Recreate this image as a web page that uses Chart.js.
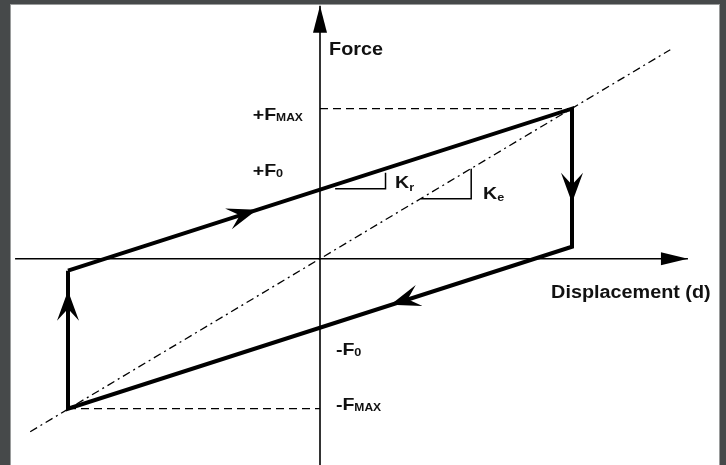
<!DOCTYPE html>
<html>
<head>
<meta charset="utf-8">
<script src="https://cdn.jsdelivr.net/npm/chart.js@4.4.0/dist/chart.umd.min.js"></script>
<style>
html, body { margin:0; padding:0; background:#46494a; overflow:hidden; }
#frame { position:absolute; left:10px; top:4px; width:710px; height:461px; background:#fff;
  border:1px solid #9a9c9c; border-bottom:none; box-sizing:border-box; }
canvas { position:absolute; left:0; top:0; }
</style>
</head>
<body>
<div id="frame"></div>
<canvas id="chart" width="726" height="465"></canvas>
<script>
// hysteresis loop corners (displacement, force)
const loopD = [-10, 10, 10, -10, -10];
const loopF = [-1.2, 15, 1.2, -15, -1.2];
// elastic stiffness line Ke (dash-dot)
const keD = [-11.5, 13.9];
const keF = [-17.3, 20.9];
// +Fmax / -Fmax guide lines
const fmaxD = [0, 10];
const fmaxF = [15, 15];
const fminD = [-10, 0];
const fminF = [-15, -15];
// axes
const axisXD = [-12.1, 14.6];
const axisXF = [0, 0];
const axisYD = [0, 0];
const axisYF = [-21, 25.3];
// slope triangles
const krD = [0.6, 2.6, 2.6];
const krF = [7, 7, 8.6];
const keTriD = [4, 6, 6];
const keTriF = [6, 6, 9];
// arrows on the loop: which segment, tip position
const arrowSeg = [0, 1, 2, 3];
const arrowD = [-2.5, 10, 2.8, -10];
const arrowF = [4.9, 5.6, -4.6, -3.2];
// texts
const labelMain = ['+F', '+F', '-F', '-F', 'K', 'K'];
const labelSub = ['MAX', '0', '0', 'MAX', 'r', 'e'];
const axisTitleX = 'Displacement (d)';
const axisTitleY = 'Force';

function pts(d, f){
    return d.map(function(v, i){ return {x: v, y: f[i]}; });
}

function line(d, f, width, dash){
    return {
        data: pts(d, f),
        showLine: true,
        borderColor: '#000',
        borderWidth: width,
        borderDash: dash || [],
        borderJoinStyle: 'miter',
        borderCapStyle: 'butt',
        pointRadius: 0,
        fill: false
    };
}

const FONT = '"Liberation Sans", Arial, sans-serif';

const overlay = {
    id: 'overlay',
    afterDatasetsDraw(chart){
        const ctx = chart.ctx;
        const xs = chart.scales.x, ys = chart.scales.y;
        const px = v => xs.getPixelForValue(v);
        const py = v => ys.getPixelForValue(v);

        function head(tx, ty, ux, uy, len, half, notch){
            let nx = -uy, ny = ux;
            ctx.beginPath();
            ctx.moveTo(tx, ty);
            ctx.lineTo(tx - ux*len + nx*half, ty - uy*len + ny*half);
            ctx.lineTo(tx - ux*(len - notch), ty - uy*(len - notch));
            ctx.lineTo(tx - ux*len - nx*half, ty - uy*len - ny*half);
            ctx.closePath();
            ctx.fillStyle = '#000';
            ctx.fill();
        }

        // axis arrowheads
        head(px(axisXD[1]), py(axisXF[1]), 1, 0, 27, 6.5, 0);
        head(px(axisYD[1]), py(axisYF[1]), 0, -1, 27, 7, 0);

        // loop direction arrows
        for(let i = 0; i < arrowSeg.length; i++){
            let s = arrowSeg[i];
            let x0 = px(loopD[s]), y0 = py(loopF[s]);
            let x1 = px(loopD[s+1]), y1 = py(loopF[s+1]);
            let l = Math.hypot(x1 - x0, y1 - y0);
            head(px(arrowD[i]), py(arrowF[i]), (x1 - x0)/l, (y1 - y0)/l, 30, 11, 12);
        }

        function label(main, sub, d, f, size, subSize, drop, stretch){
            ctx.save();
            ctx.translate(px(d), py(f));
            ctx.scale(stretch, 1);
            ctx.fillStyle = '#111';
            ctx.textBaseline = 'alphabetic';
            ctx.textAlign = 'left';
            ctx.font = 'bold ' + size + 'px ' + FONT;
            ctx.fillText(main, 0, 0);
            if(sub){
                let w = ctx.measureText(main).width;
                ctx.font = 'bold ' + subSize + 'px ' + FONT;
                ctx.fillText(sub, w, drop);
            }
            ctx.restore();
        }

        // label anchors (left edge, baseline) in data units
        const where = [[-2.67, 13.87], [-2.67, 8.27], [0.63, -9.58], [0.63, -15.13], [2.98, 7.04], [6.47, 5.94]];
        const drops = [1, 1, 1, 1, 3, 2];
        const subSizes = [10.5, 11, 11, 10.5, 11, 11];
        for(let i = 0; i < labelMain.length; i++){
            label(labelMain[i], labelSub[i], where[i][0], where[i][1], 17, subSizes[i], drops[i], 1.15);
        }
        label(axisTitleY, null, 0.36, 20.37, 18, 0, 0, 1.1);
        label(axisTitleX, null, 9.17, -3.9, 18, 0, 0, 1.1);
    }
};

new Chart(document.getElementById('chart'), {
    type: 'scatter',
    data: {
        datasets: [
            line(axisXD, axisXF, 1.6),
            line(axisYD, axisYF, 1.6),
            line(keD, keF, 1.3, [8, 4, 2, 4]),
            line(fmaxD, fmaxF, 1.3, [8, 5]),
            line(fminD, fminF, 1.3, [8, 5]),
            line(krD, krF, 1.5),
            line(keTriD, keTriF, 1.5),
            line(loopD, loopF, 4)
        ]
    },
    options: {
        responsive: false,
        animation: false,
        devicePixelRatio: 1,
        layout: {padding: 0, autoPadding: false},
        scales: {
            x: {type: 'linear', display: false, min: -320/25.2, max: 406/25.2},
            y: {type: 'linear', display: false, min: -20.63, max: 25.87}
        },
        plugins: {
            legend: {display: false},
            tooltip: {enabled: false}
        }
    },
    plugins: [overlay]
});
</script>
</body>
</html>
